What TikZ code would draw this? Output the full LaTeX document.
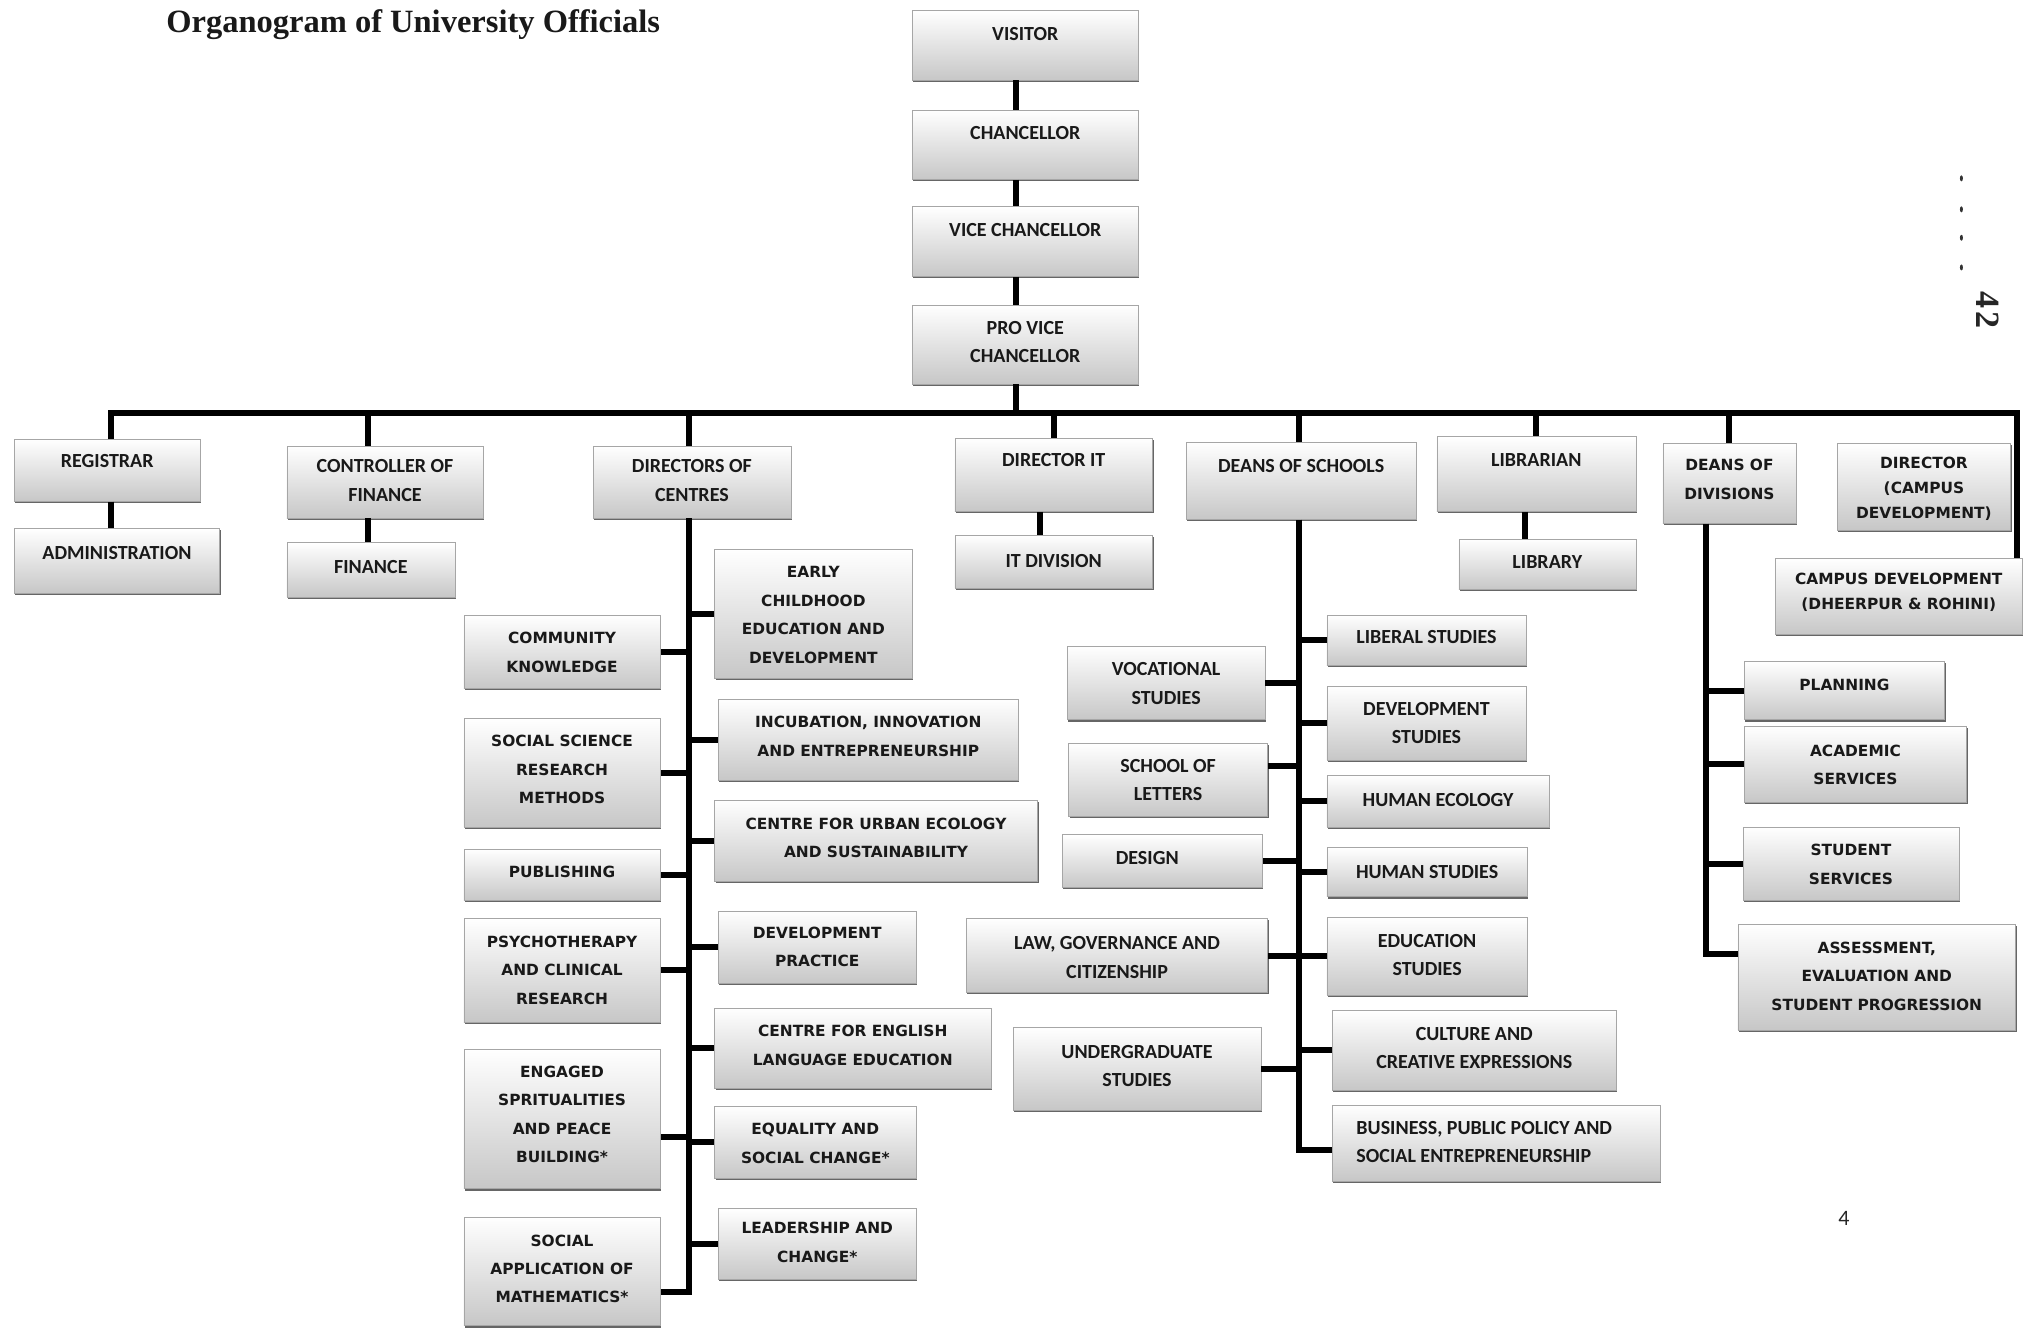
\documentclass[tikz,border=0pt]{standalone}
\usepackage{fontspec}
\setmainfont{Liberation Serif}
\newfontfamily\calib{Carlito}
\newfontfamily\widef{DejaVu Sans}
\usetikzlibrary{fit,calc,shadows}
\tikzset{
  box/.style={draw=black!35, line width=0.5pt, top color=white, bottom color=black!22,
    inner sep=0pt, drop shadow={shadow xshift=1pt, shadow yshift=-1.8pt, fill=black, opacity=0.6}},
  cal/.style={font=\calib\bfseries\fontsize{20}{28.4}\selectfont, text=black!90, align=center, inner sep=0pt},
  wid/.style={font=\widef\bfseries\fontsize{15.4}{28.4}\selectfont, text=black!90, align=center, inner sep=0pt},
  widt/.style={font=\widef\bfseries\fontsize{15.4}{25}\selectfont, text=black!90, align=center, inner sep=0pt},
  link/.style={line width=6pt, black},
}
\newcommand\bx[8]{%
  \node[box, fit={(#3,#4) (#5,#6)}] (#2) {};
  \pgfmathsetmacro\bxcx{(#3+#5)/2}
  \node[#1] (#2-t) at (\bxcx,#7) {#8};
}
\begin{document}
\begin{tikzpicture}[x=1.2921pt, y={(0pt,-1.2921pt)}]
\useasboundingbox (0,0) rectangle (1568,1028);
\fill[white] (0,0) rectangle (1568,1028);

\node[font=\bfseries\fontsize{32.5}{36}\selectfont, text=black!90, anchor=west] (title) at (126,19) {Organogram of University Officials};

% top chain
\bx{cal}{visitor}{706}{8}{881}{62}{26}{VISITOR}
\bx{cal}{chanc}{706}{85}{881}{139}{103}{CHANCELLOR}
\bx{cal}{vc}{706}{160}{881}{214}{178}{VICE CHANCELLOR}
\bx{cal}{pvc}{706}{236}{881}{297}{264.5}{PRO VICE\\CHANCELLOR}

% level 2
\bx{cal}{reg}{11}{340}{155}{388}{357}{REGISTRAR}
\bx{cal}{admin}{11}{409}{170}{459}{428}{ADMINISTRATION}
\bx{cal}{ctrl}{222}{345}{374}{401}{372}{CONTROLLER OF\\FINANCE}
\bx{cal}{fin}{222}{420}{352}{462}{439}{FINANCE}
\bx{cal}{dirc}{459}{345}{612}{401}{372}{DIRECTORS OF\\CENTRES}
\bx{cal}{dit}{739}{339}{892}{396}{356}{DIRECTOR IT}
\bx{cal}{itd}{739}{414}{892}{455}{434}{IT DIVISION}
\bx{cal}{dsch}{918}{342}{1096}{402}{361}{DEANS OF SCHOOLS}
\bx{cal}{libn}{1112}{338}{1266}{396}{356}{LIBRARIAN}
\bx{cal}{libr}{1129}{417}{1266}{456}{435}{LIBRARY}
\bx{wid}{ddiv}{1287}{343}{1390}{405}{371}{DEANS OF\\DIVISIONS}
\bx{widt}{dcamp}{1422}{343}{1556}{410}{378.5}{DIRECTOR\\(CAMPUS\\DEVELOPMENT)}
\bx{widt}{cdev}{1374}{432}{1565}{491}{458.5}{CAMPUS DEVELOPMENT\\(DHEERPUR \& ROHINI)}

% directors of centres children
\bx{wid}{commun}{359}{476}{511}{533}{505}{COMMUNITY\\KNOWLEDGE}
\bx{wid}{ssrm}{359}{556}{511}{640}{595.5}{SOCIAL SCIENCE\\RESEARCH\\METHODS}
\bx{wid}{publ}{359}{657}{511}{697}{675}{PUBLISHING}
\bx{wid}{psych}{359}{711}{511}{791}{751}{PSYCHOTHERAPY\\AND CLINICAL\\RESEARCH}
\bx{wid}{engag}{359}{812}{511}{920}{862.5}{ENGAGED\\SPRITUALITIES\\AND PEACE\\BUILDING*}
\bx{wid}{socapp}{359}{942}{511}{1026}{982}{SOCIAL\\APPLICATION OF\\MATHEMATICS*}
\bx{wid}{early}{553}{425}{706}{525}{476}{EARLY\\CHILDHOOD\\EDUCATION AND\\DEVELOPMENT}
\bx{wid}{incub}{556}{541}{788}{604}{570}{INCUBATION, INNOVATION\\AND ENTREPRENEURSHIP}
\bx{wid}{urban}{553}{619}{803}{682}{648.5}{CENTRE FOR URBAN ECOLOGY\\AND SUSTAINABILITY}
\bx{wid}{devp}{556}{705}{709}{761}{733}{DEVELOPMENT\\PRACTICE}
\bx{wid}{engl}{553}{780}{767}{842}{809}{CENTRE FOR ENGLISH\\LANGUAGE EDUCATION}
\bx{wid}{equal}{553}{856}{709}{912}{885}{EQUALITY AND\\SOCIAL CHANGE*}
\bx{wid}{lead}{556}{935}{709}{990}{961.5}{LEADERSHIP AND\\CHANGE*}

% deans of schools children
\bx{cal}{libs}{1027}{476}{1181}{515}{493}{LIBERAL STUDIES}
\bx{cal}{devs}{1027}{531}{1181}{588}{559.5}{DEVELOPMENT\\STUDIES}
\bx{cal}{heco}{1027}{600}{1199}{640}{619}{HUMAN ECOLOGY}
\bx{cal}{hstu}{1027}{656}{1182}{694}{675}{HUMAN STUDIES}
\bx{cal}{edus}{1027}{710}{1182}{770}{739}{EDUCATION\\STUDIES}
\bx{cal}{cult}{1031}{782}{1251}{844}{811}{CULTURE AND\\CREATIVE EXPRESSIONS}
\bx{cal,align=left,xshift=-12pt}{busi}{1031}{855}{1285}{914}{884}{BUSINESS, PUBLIC POLICY AND\\SOCIAL ENTREPRENEURSHIP}
\bx{cal}{voc}{826}{500}{979}{557}{529}{VOCATIONAL\\STUDIES}
\bx{cal}{lett}{827}{575}{981}{632}{603.5}{SCHOOL OF\\LETTERS}
\bx{cal,xshift=-15pt}{desg}{822}{646}{977}{687}{664}{DESIGN}
\bx{cal}{law}{748}{711}{981}{768}{741}{LAW, GOVERNANCE AND\\CITIZENSHIP}
\bx{cal}{ug}{784}{795}{976}{859}{825}{UNDERGRADUATE\\STUDIES}

% deans of divisions children
\bx{wid}{plan}{1350}{512}{1505}{557}{530}{PLANNING}
\bx{wid}{acad}{1350}{562}{1522}{621}{592}{ACADEMIC\\SERVICES}
\bx{wid}{stud}{1349}{640}{1516}{697}{669}{STUDENT\\SERVICES}
\bx{wid}{asse}{1345}{715}{1560}{797}{755.5}{ASSESSMENT,\\EVALUATION AND\\STUDENT PROGRESSION}

% junction coordinates
\coordinate (xTop) at (786,0);
\coordinate (barL) at (86,320);
\coordinate (barR) at (1561,320);
\coordinate (jCtrl) at (285,320);
\coordinate (xDC) at (533,0);
\coordinate (dcEnd) at (533,1000);
\coordinate (xDS) at (1005,0);
\coordinate (dsEnd) at (1005,890);
\coordinate (xDD) at (1320,0);
\coordinate (ddEnd) at (1320,738);
\coordinate (xIT) at (805,0);
\coordinate (xLib) at (1180,0);
\coordinate (yEng) at (0,880);
\coordinate (yLett) at (0,593);

% chain
\draw[link] (visitor.south -| xTop) -- (chanc.north -| xTop);
\draw[link] (chanc.south -| xTop) -- (vc.north -| xTop);
\draw[link] (vc.south -| xTop) -- (pvc.north -| xTop);
\draw[link] (pvc.south -| xTop) -- (barL -| xTop);
% bar
\draw[link] (reg.north -| barL) -- (barL) -- (barR) -- (cdev.north -| barR);
\draw[link] (jCtrl) -- (ctrl.north -| jCtrl);
\draw[link] (barL -| xDC) -- (dirc.north -| xDC);
\draw[link] (barL -| dit.north) -- (dit.north);
\draw[link] (barL -| xDS) -- (dsch.north -| xDS);
\draw[link] (barL -| libn.north) -- (libn.north);
\draw[link] (barL -| ddiv.north) -- (ddiv.north);
% sub links
\draw[link] (reg.south -| barL) -- (admin.north -| barL);
\draw[link] (ctrl.south -| jCtrl) -- (fin.north -| jCtrl);
\draw[link] (dit.south -| xIT) -- (itd.north -| xIT);
\draw[link] (libn.south -| xLib) -- (libr.north -| xLib);

% directors of centres tree
\draw[link] (dirc.south -| xDC) -- (dcEnd) -- (dcEnd -| socapp.east);
\foreach \n in {commun,ssrm,publ,psych}
  \draw[link] (xDC |- \n.east) -- (\n.east);
\draw[link] (xDC |- yEng) -- (engag.east |- yEng);
\foreach \n in {early,incub,urban,devp,engl,equal,lead}
  \draw[link] (xDC |- \n.west) -- (\n.west);

% deans of schools tree
\draw[link] (dsch.south -| xDS) -- (dsEnd) -- (dsEnd -| busi.west);
\foreach \n in {libs,devs,heco,hstu,edus,cult}
  \draw[link] (xDS |- \n.west) -- (\n.west);
\foreach \n in {voc,desg,law,ug}
  \draw[link] (xDS |- \n.east) -- (\n.east);
\draw[link] (xDS |- yLett) -- (lett.east |- yLett);

% deans of divisions tree
\draw[link] (ddiv.south -| xDD) -- (ddEnd) -- (ddEnd -| asse.west);
\foreach \n in {plan,acad,stud}
  \draw[link] (xDD |- \n.west) -- (\n.west);

% page marks
\node[font=\calib\fontsize{22}{24}\selectfont, text=black!85] (pagenum) at (1427,943) {4};
\node[font=\bfseries\fontsize{34}{34}\selectfont, text=black!85, rotate=-90] (stamp) at (1538,240) {4\kern3pt2};
\foreach \yy in {138,162,184,207}
  \fill[black!80] (1518,\yy) ellipse (1.5pt and 3pt);
\end{tikzpicture}
\end{document}
